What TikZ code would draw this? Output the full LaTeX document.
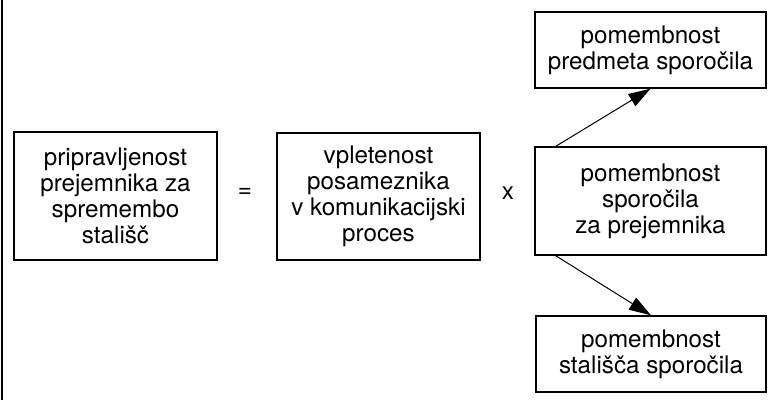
\documentclass[tikz,border=0pt]{standalone}
\usepackage{fontspec}
\setmainfont{TeX Gyre Heros}
\usepackage{tikz}
\usetikzlibrary{arrows.meta}

\tikzset{
  box/.style={draw, line width=0.7pt, align=center, inner sep=0pt,
    font=\fontsize{12.1}{13}\selectfont},
  sign/.style={font=\fontsize{12.1}{13}\selectfont},
  arr/.style={line width=0.5pt, -{Triangle[length=11pt,width=7pt]}}
}

\begin{document}
\begin{tikzpicture}[x=0.5pt,y=-0.5pt]
\useasboundingbox (0,0) rectangle (777,404);
\draw [line width=1pt] (2,0) -- (2,400);

\node (ready) at (115.5,196) [box, minimum width=101.5pt, minimum height=64pt]
  {pripravljenost\\prejemnika za\\spremembo\\stališč};
\node (eq) at (245,193) [sign] {=};

\node (involve) at (378.5,196.5) [box, minimum width=101.5pt, minimum height=63.5pt]
  {vpletenost\\posameznika\\v komunikacijski\\proces};
\node (times) at (508,193) [sign] {x};

\node (topic) at (650.5,50) [box, minimum width=115.5pt, minimum height=38pt]
  {pomembnost\\predmeta sporočila};
\node (msg) at (650.5,201) [box, minimum width=115.5pt, minimum height=54pt]
  {pomembnost\\sporočila\\za prejemnika};
\node (stance) at (651,354) [box, minimum width=115pt, minimum height=38pt]
  {pomembnost\\stališča sporočila};

\draw [arr] (msg.150) -- (topic.south);
\draw [arr] (msg.210) -- (stance.north);
\end{tikzpicture}
\end{document}
